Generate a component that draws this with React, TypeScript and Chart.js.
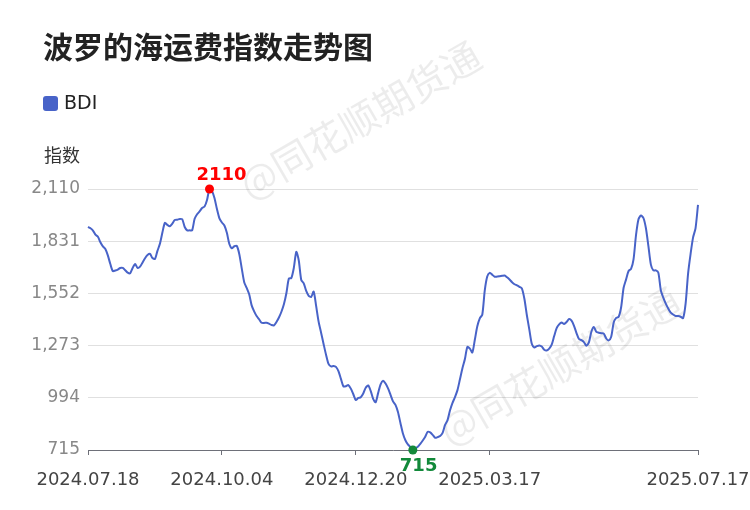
import React, { useEffect, useRef } from 'react';
import { Chart, registerables } from 'chart.js';

Chart.register(...registerables);

const chartTitle = '波罗的海运费指数走势图';
const seriesName = 'BDI';
const yAxisTitle = '指数';
const watermarkText = '@同花顺期货通';

// BDI values, one per trading day
const bdiValues = [
  1907, 1900, 1888, 1866, 1855, 1825, 1803, 1789, 1755, 1709,
  1671, 1674, 1679, 1688, 1688, 1676, 1663, 1660, 1688, 1709,
  1688, 1695, 1717, 1740, 1757, 1763, 1741, 1736, 1779, 1817,
  1877, 1929, 1918, 1911, 1925, 1944, 1946, 1950, 1948, 1907,
  1889, 1889, 1889, 1951, 1975, 1990, 2008, 2016, 2051, 2110,
  2099, 2062, 2003, 1953, 1931, 1915, 1876, 1816, 1793, 1804,
  1806, 1763, 1686, 1612, 1581, 1547, 1488, 1456, 1431, 1414,
  1395, 1394, 1395, 1390, 1383, 1381, 1399, 1423, 1454, 1494,
  1553, 1631, 1634, 1688, 1774, 1728, 1624, 1606, 1565, 1539,
  1533, 1562, 1485, 1401, 1342, 1282, 1224, 1175, 1162, 1164,
  1159, 1136, 1095, 1055, 1056, 1062, 1043, 1013, 982, 993,
  997, 1017, 1048, 1060, 1031, 988, 970, 1019, 1066, 1085,
  1070, 1044, 1010, 975, 956, 918, 859, 803, 767, 745,
  731, 715, 723, 732, 748, 766, 786, 812, 809, 796,
  780, 784, 790, 807, 849, 875, 927, 967, 998, 1035,
  1093, 1152, 1201, 1266, 1257, 1236, 1304, 1376, 1419, 1438,
  1567, 1642, 1662, 1652, 1641, 1642, 1644, 1646, 1648, 1638,
  1626, 1612, 1601, 1595, 1587, 1578, 1522, 1434, 1357, 1281,
  1263, 1270, 1274, 1268, 1251, 1247, 1257, 1278, 1324, 1366,
  1386, 1396, 1388, 1399, 1415, 1406, 1379, 1340, 1308, 1302,
  1292, 1272, 1290, 1347, 1372, 1346, 1342, 1339, 1337, 1311,
  1301, 1320, 1396, 1421, 1427, 1478, 1582, 1627, 1672, 1683,
  1734, 1863, 1948, 1968, 1955, 1900, 1805, 1706, 1675, 1675,
  1663, 1569, 1529, 1497, 1471, 1449, 1439, 1431, 1431, 1427,
  1420, 1497, 1658, 1762, 1850, 1900, 2025,
];

const xTickIndex = [0, 54, 108, 162, 246];
const xTickLabels = ['2024.07.18', '2024.10.04', '2024.12.20', '2025.03.17', '2025.07.17'];
const yTicks = [715, 994, 1273, 1552, 1831, 2110];

const FONT = '"DejaVu Sans", "Noto Sans CJK SC", sans-serif';
const CJK_FONT = '"Noto Sans CJK SC", "DejaVu Sans", sans-serif';
const LINE_COLOR = '#4863c8';
const MAX_COLOR = '#ff0000';
const MIN_COLOR = '#12893a';

export default function App() {
  const canvasRef = useRef<HTMLCanvasElement | null>(null);

  useEffect(() => {
    document.body.style.margin = '0';
    const canvas = canvasRef.current;
    if (!canvas) return;

    const maxVal = Math.max(...bdiValues);
    const minVal = Math.min(...bdiValues);
    const maxIdx = bdiValues.indexOf(maxVal);
    const minIdx = bdiValues.indexOf(minVal);

    const decor = {
      id: 'decor',
      beforeDatasetsDraw(chart: any) {
        const ctx = chart.ctx;
        ctx.save();
        ctx.font = `39px ${CJK_FONT}`;
        ctx.fillStyle = 'rgba(0,0,0,0.075)';
        ctx.textAlign = 'center';
        ctx.textBaseline = 'middle';
        const spots = [
          [360, 120],
          [560, 366],
        ];
        for (const [cx, cy] of spots) {
          ctx.save();
          ctx.translate(cx, cy);
          ctx.rotate((-30 * Math.PI) / 180);
          ctx.fillText(watermarkText, 0, 0);
          ctx.restore();
        }
        ctx.restore();
      },
      afterDatasetsDraw(chart: any) {
        const ctx = chart.ctx;
        const meta = chart.getDatasetMeta(0);
        const pMax = meta.data[maxIdx];
        const pMin = meta.data[minIdx];
        ctx.save();
        ctx.font = `bold 18px ${FONT}`;
        ctx.textAlign = 'left';
        ctx.textBaseline = 'middle';
        ctx.fillStyle = MAX_COLOR;
        ctx.fillText(String(maxVal), pMax.x - 13, pMax.y - 14);
        ctx.fillStyle = MIN_COLOR;
        ctx.fillText(String(minVal), pMin.x - 13, pMin.y + 16);
        ctx.restore();
      },
      afterDraw(chart: any) {
        const ctx = chart.ctx;
        ctx.save();
        // title
        ctx.font = `bold 30px ${CJK_FONT}`;
        ctx.fillStyle = '#222';
        ctx.textAlign = 'left';
        ctx.textBaseline = 'middle';
        ctx.fillText(chartTitle, 43, 47);
        // legend
        ctx.fillStyle = LINE_COLOR;
        ctx.beginPath();
        (ctx as any).roundRect(43, 96, 15, 15, 3);
        ctx.fill();
        ctx.font = `19px ${FONT}`;
        ctx.fillStyle = '#222';
        ctx.fillText(seriesName, 64, 104);
        // y axis title
        ctx.font = `18px ${CJK_FONT}`;
        ctx.fillStyle = '#333';
        ctx.fillText(yAxisTitle, 44, 155);
        ctx.restore();
      },
    };

    const chart = new Chart(canvas, {
      type: 'line',
      data: {
        datasets: [
          {
            label: seriesName,
            data: bdiValues.map((v, i) => ({ x: i, y: v })),
            borderColor: LINE_COLOR,
            backgroundColor: LINE_COLOR,
            borderWidth: 2,
            tension: 0.25,
            clip: false,
            pointRadius: (c: any) => (c.dataIndex === maxIdx || c.dataIndex === minIdx ? 4.5 : 0),
            pointBackgroundColor: (c: any) => (c.dataIndex === maxIdx ? MAX_COLOR : MIN_COLOR),
            pointBorderWidth: 0,
            pointHoverRadius: 0,
          },
        ],
      },
      options: {
        responsive: false,
        animation: false,
        devicePixelRatio: 1,
        layout: { padding: { left: 0, top: 189, right: 52, bottom: 0 } },
        plugins: {
          legend: { display: false },
          title: { display: false },
          tooltip: { enabled: false },
        },
        scales: {
          x: {
            type: 'linear',
            min: 0,
            max: bdiValues.length - 1,
            afterBuildTicks: (scale: any) => {
              scale.ticks = xTickIndex.map((v) => ({ value: v }));
            },
            afterFit: (scale: any) => {
              scale.height = 60;
              scale.paddingLeft = 0;
              scale.paddingRight = 0;
            },
            ticks: {
              autoSkip: false,
              maxRotation: 0,
              padding: 15,
              color: '#444',
              font: { family: FONT, size: 18 },
              callback: (v: any) => {
                const k = xTickIndex.indexOf(Number(v));
                return k >= 0 ? xTickLabels[k] : '';
              },
            },
            grid: {
              drawOnChartArea: false,
              drawTicks: true,
              tickLength: 5,
              color: '#6e7079',
            },
            border: { display: true, color: '#6e7079', width: 1 },
          },
          y: {
            min: yTicks[0],
            max: yTicks[yTicks.length - 1],
            afterBuildTicks: (scale: any) => {
              scale.ticks = yTicks.map((v) => ({ value: v }));
            },
            afterFit: (scale: any) => {
              scale.width = 88;
              scale.paddingTop = 0;
              scale.paddingBottom = 0;
            },
            ticks: {
              padding: 8,
              color: '#888',
              font: { family: FONT, size: 17 },
              callback: (v: any) => Number(v).toLocaleString('en-US'),
            },
            grid: { color: '#e0e0e0', drawTicks: false },
            border: { display: false },
          },
        },
      },
      plugins: [decor],
    } as any);

    return () => chart.destroy();
  }, []);

  return (
    <div style={{ width: 750, height: 510, position: 'relative' }}>
      <canvas ref={canvasRef} width={750} height={510} style={{ display: 'block', width: 750, height: 510 }} />
    </div>
  );
}
